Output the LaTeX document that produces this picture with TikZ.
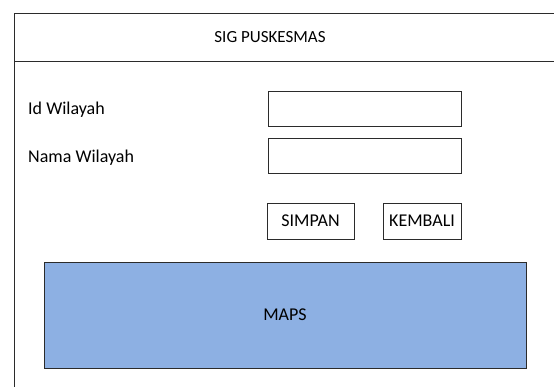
\documentclass[tikz,border=0pt]{standalone}
\usepackage{fontspec}
\setmainfont{Carlito}
\definecolor{mapblue}{HTML}{8DB0E3}
\definecolor{frame}{HTML}{2B2B2B}
\begin{document}
\begin{tikzpicture}[x=1pt,y=-1pt,
  field/.style={draw=frame,thick,minimum width=193pt,minimum height=35pt,inner sep=0pt},
  button/.style={draw=frame,thick,minimum height=36pt,inner sep=0pt,font=\fontsize{18}{20}\selectfont},
  lbl/.style={anchor=west,inner sep=0pt,font=\fontsize{18}{20}\selectfont}]
\useasboundingbox (0,0) rectangle (554,387);
\draw[thick,draw=frame]
(554,13) -- (14,13) -- (14,387)
(14,61) -- (554,61);
\node[font=\fontsize{17}{19}\selectfont] (title) at (270,37) {SIG PUSKESMAS};

\node[lbl] (idw) at (28,110) {Id Wilayah};
\node[lbl] (namaw) at (28,158) {Nama Wilayah};
\node[field] (idbox) at (364.5,108.5) {};
\node[field] (namabox) at (364.5,155.5) {};

\node[button,minimum width=87pt] (simpan) at (310.5,221) {SIMPAN};
\node[button,minimum width=78pt] (kembali) at (422,221) {KEMBALI};

\node[draw=frame,thick,fill=mapblue,minimum width=482pt,minimum height=106pt,inner sep=0pt,
  font=\fontsize{18}{20}\selectfont] (maps) at (285,315) {MAPS};
\end{tikzpicture}
\end{document}
